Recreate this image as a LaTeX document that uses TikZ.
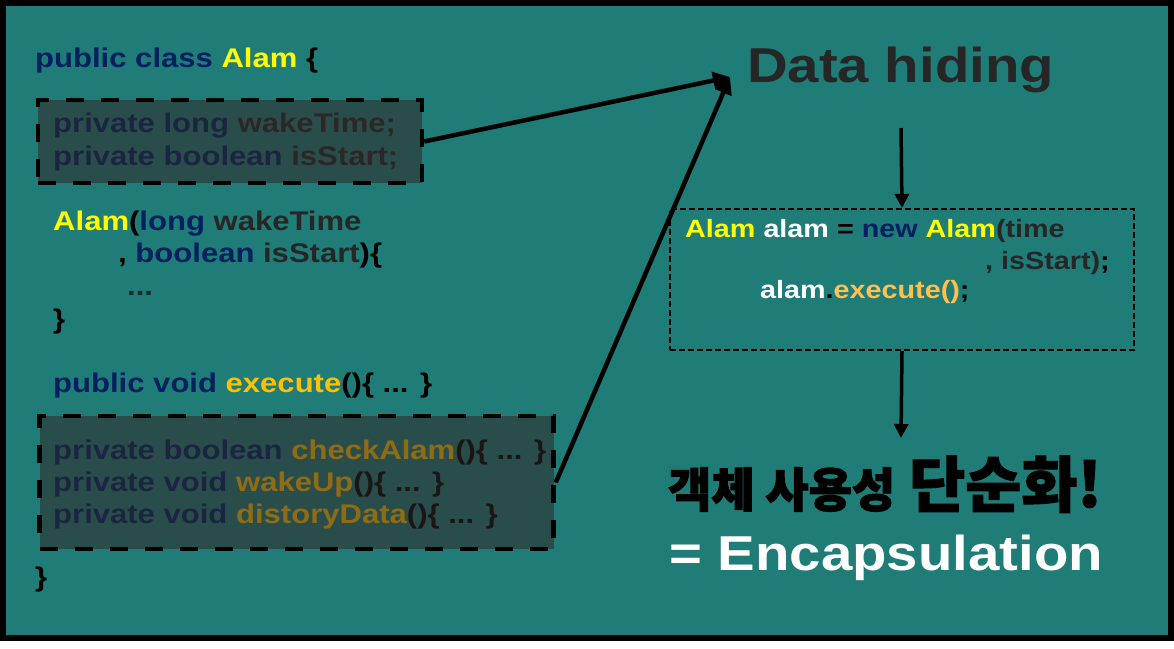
\documentclass[tikz,border=0pt]{standalone}
\usepackage{fontspec}
\usetikzlibrary{arrows.meta}

\newfontfamily\codefont{Liberation Sans}[FakeStretch=1.15]
\newfontfamily\krfont{Noto Sans CJK KR}

\definecolor{slidebg}{RGB}{32,124,118}
\definecolor{kwnavy}{RGB}{0,32,96}
\definecolor{clsyellow}{RGB}{255,255,0}
\definecolor{vargray}{RGB}{38,38,38}
\definecolor{methgold}{RGB}{255,192,0}
\definecolor{callorange}{RGB}{255,192,80}
\definecolor{shade}{RGB}{50,40,40}

\newcommand{\codekw}[1]{\textcolor{kwnavy}{#1}}
\newcommand{\codecls}[1]{\textcolor{clsyellow}{#1}}
\newcommand{\codevar}[1]{\textcolor{vargray}{#1}}
\newcommand{\codemeth}[1]{\textcolor{methgold}{#1}}
% heavier strokes for the hangul line
\newcommand{\heavy}[2]{\special{pdf:literal direct 2 Tr #1 w}#2\special{pdf:literal direct 0 Tr}}

\begin{document}
\begin{tikzpicture}[x=1pt, y=-1pt,
  code/.style={anchor=base west, inner sep=0pt, text=black,
    font=\codefont\bfseries\fontsize{27}{32}\selectfont},
  callcode/.style={code, font=\codefont\bfseries\fontsize{25}{30}\selectfont},
  bigtext/.style={anchor=base west, inner sep=0pt,
    font=\codefont\bfseries\fontsize{49}{58}\selectfont},
  hidebox/.style={draw=black, line width=4.5pt, dash pattern=on 18pt off 17pt,
    fill=shade, fill opacity=0.55, inner sep=0pt},
  callbox/.style={draw=black, line width=2.2pt, dash pattern=on 6pt off 3pt,
    inner sep=0pt, minimum width=464pt, minimum height=141pt},
  thickarrow/.style={line width=4.5pt, -{Triangle[length=17pt, width=17pt]}},
  downarrow/.style={line width=3.5pt, -{Triangle[length=14pt, width=14pt]}}]

  % slide frame
  \fill[white] (0,0) rectangle (1174,648);
  \fill[black] (0,0) rectangle (1174,641);
  \fill[slidebg] (6,6) rectangle (1168,635);

  % class code
  \node[code] (classhead) at (35,67) {\codekw{public class} \codecls{Alam} \{};
  \node[code] (field1) at (53,132) {\codekw{private long} \codevar{wakeTime;}};
  \node[code] (field2) at (53,165) {\codekw{private boolean} \codevar{isStart;}};
  \node[code] (ctor1) at (53,230) {\codecls{Alam}(\codekw{long} \codevar{wakeTime}};
  \node[code] (ctor2) at (118,262) {, \codekw{boolean} \codevar{isStart})\{};
  \node[code] (ctor3) at (127,295) {\codevar{...}};
  \node[code] (ctor4) at (53,328) {\}};
  \node[code] (execline) at (53,392) {\codekw{public void} \codemeth{execute}()\{ ... \}};
  \node[code] (meth1) at (53,459) {\codekw{private boolean} \codemeth{checkAlam}()\{ ... \}};
  \node[code] (meth2) at (53,491) {\codekw{private void} \codemeth{wakeUp}()\{ ... \}};
  \node[code] (meth3) at (53,523) {\codekw{private void} \codemeth{distoryData}()\{ ... \}};
  \node[code] (classend) at (35,586) {\}};

  % hidden members
  \node[hidebox, minimum width=384pt, minimum height=83pt] (fieldbox) at (230,141.5) {};
  \node[hidebox, minimum width=514pt, minimum height=133pt] (methbox) at (296.5,482.5) {};

  % right side
  \node[bigtext, text=vargray] (title) at (747,82) {Data hiding};
  \node[callbox] (usebox) at (902,279.5) {};
  \node[callcode] (call1) at (685,237)
    {\codecls{Alam} \textcolor{white}{alam} = \codekw{new} \codecls{Alam}\codevar{(time}};
  \node[callcode] (call2) at (985,269) {\codevar{, isStart)};};
  \node[callcode] (call3) at (760,298)
    {\textcolor{white}{alam}.\textcolor{callorange}{execute()};};
  \node[anchor=base west, inner sep=0pt, text=black,
        font=\krfont\bfseries\fontsize{61}{70}\selectfont] (simpler) at (668,507)
    {\heavy{1.1}{{\fontsize{47}{54}\selectfont 객체 사용성} 단순화!}};
  \node[bigtext, text=white] (encaps) at (669,570) {= Encapsulation};

  % connectors
  \coordinate (hub) at (730,77);
  \draw[thickarrow] (fieldbox.east) -- (hub);
  \draw[thickarrow] (methbox.east) -- (hub);
  \coordinate (titlegap) at (901,128);
  \draw[downarrow] (titlegap) -- (usebox.north);
  \coordinate (krtop) at (901,438);
  \draw[downarrow] (usebox.south) -- (krtop);
\end{tikzpicture}
\end{document}
